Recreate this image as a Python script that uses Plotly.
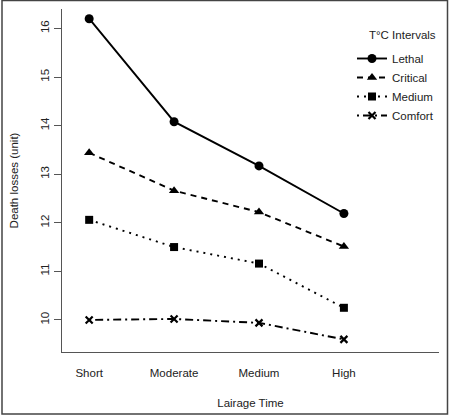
import plotly.graph_objects as go

categories = ["Short", "Moderate", "Medium", "High"]
x_pos = [1, 2, 3, 4]
lethal = [16.20, 14.08, 13.17, 12.19]
critical = [13.44, 12.66, 12.22, 11.51]
medium = [12.06, 11.50, 11.16, 10.25]
comfort = [10.00, 10.02, 9.94, 9.60]
y_ticks = [10, 11, 12, 13, 14, 15, 16]

series = [
    ("Lethal", lethal, "solid", "circle", 9, 1.9),
    ("Critical", critical, "6px,5px", "triangle-up", 9, 1.9),
    ("Medium", medium, "2px,5px", "square", 8, 1.9),
    ("Comfort", comfort, "2px,4px,8px,4px", "x-thin-open", 7, 1.9),
]

FONT = "Liberation Sans, Arial, sans-serif"
fig = go.Figure()
for name, vals, dash, sym, msize, lw in series:
    fig.add_trace(go.Scatter(
        x=x_pos, y=vals, name=name, mode="lines+markers",
        line=dict(color="black", width=lw, dash=dash),
        marker=dict(symbol=sym, size=msize, color="black",
                    line=dict(color="black", width=2.2 if sym.startswith("x") else 0)),
    ))

W, H = 449, 415
L, R, T, B = 62, 10, 9, 63
pw, ph = W - L - R, H - T - B

def px2paper(px, py):
    return (px - L) / pw, (H - B - py) / ph

x0, y0 = px2paper(2, 414)
x1, y1 = px2paper(447.5, 0.5)
fig.add_shape(type="rect", xref="paper", yref="paper", x0=x0, y0=y0, x1=x1, y1=y1,
              line=dict(color="#444", width=1.5), layer="below")

tx, ty = px2paper(402, 35)
fig.add_annotation(text="T°C Intervals", xref="paper", yref="paper", x=tx, y=ty,
                   showarrow=False, font=dict(family=FONT, size=11.5, color="#222"),
                   xanchor="center", yanchor="middle")

lx, ly = px2paper(352, 44)
fig.update_layout(
    width=W, height=H,
    margin=dict(l=L, r=R, t=T, b=B),
    plot_bgcolor="white", paper_bgcolor="white",
    font=dict(family=FONT, size=11.5, color="#222"),
    showlegend=True,
    legend=dict(x=lx, y=ly, xanchor="left", yanchor="top", bgcolor="rgba(0,0,0,0)",
                font=dict(family=FONT, size=11.5, color="#222"), tracegroupgap=0),
    xaxis=dict(range=[0.68, 5.12], tickvals=x_pos, ticktext=categories,
               showline=True, linecolor="#555", linewidth=1.3, showgrid=False,
               zeroline=False, ticks="outside", ticklen=10, tickcolor="rgba(0,0,0,0)",
               title=dict(text="Lairage Time", standoff=20, font=dict(size=11.5))),
    yaxis=dict(range=[9.34, 16.40], tickvals=y_ticks, ticktext=[str(v) for v in y_ticks],
               showline=True, linecolor="#555", linewidth=1.3, showgrid=False,
               zeroline=False, ticks="outside", ticklen=7, tickcolor="#555", tickwidth=1.2,
               tickangle=-90,
               title=dict(text="Death losses (unit)", standoff=18, font=dict(size=11.5))),
)
fig.write_html("out.html")
